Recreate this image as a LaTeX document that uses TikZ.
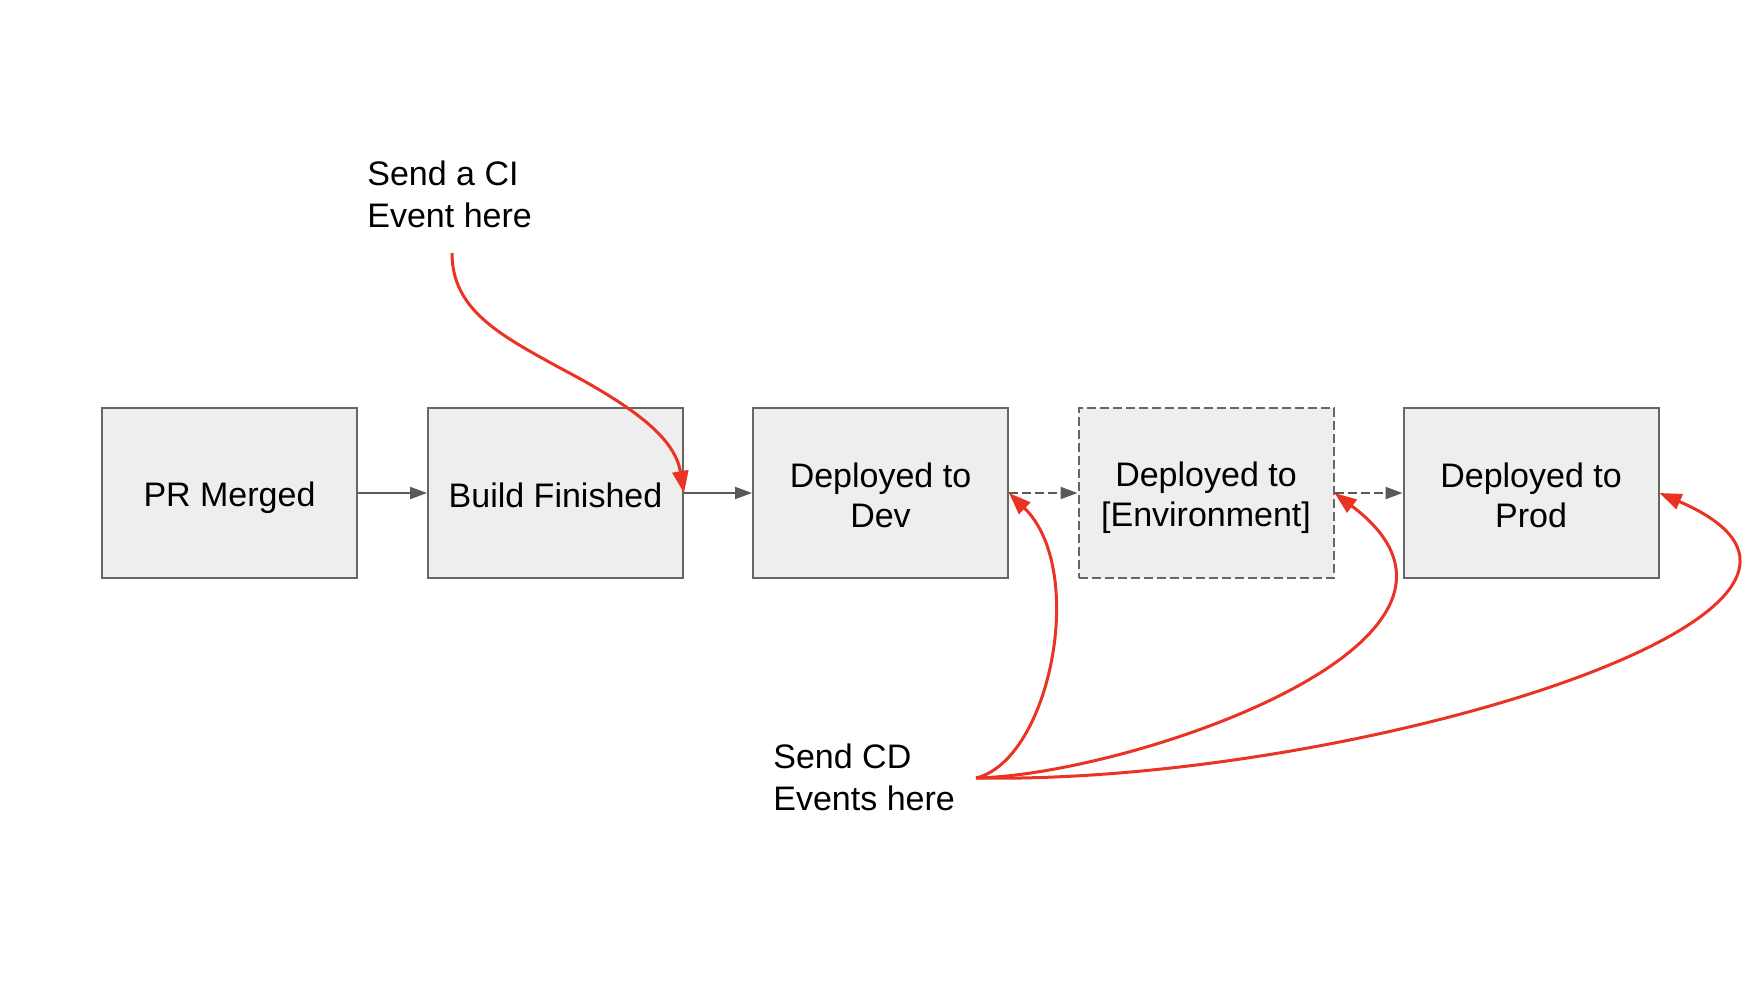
\documentclass[tikz,border=0pt]{standalone}
\usepackage{fontspec}
\setmainfont{Liberation Sans}
\usetikzlibrary{arrows.meta}
\definecolor{boxfill}{HTML}{EEEEEE}
\definecolor{boxline}{HTML}{666666}
\definecolor{arrgray}{HTML}{595959}
\definecolor{evred}{HTML}{EA3323}
\newcommand\bxstrut{\rule[-3pt]{0pt}{20pt}}
\newcommand\stagefont{\fontsize{17pt}{20pt}\selectfont\setlength{\lineskiplimit}{-20pt}}
\begin{document}
\begin{tikzpicture}[x=0.5pt,y=-0.5pt,
  stagebox/.style={draw=boxline,fill=boxfill,line width=1pt,minimum width=127.5pt,minimum height=85pt,align=center,inner sep=0pt,font=\stagefont},
  flow/.style={draw=arrgray,line width=1pt,-{Triangle[length=8.5pt,width=6pt]}},
  dashflow/.style={flow,dash pattern=on 4.5pt off 2pt},
  event/.style={draw=evred,line width=1.5pt,-{Triangle[length=11pt,width=8pt]}},
  note/.style={align=left,inner sep=0pt,font=\fontsize{17pt}{21pt}\selectfont}]
\useasboundingbox (0,0) rectangle (1764,988);
\node[stagebox] (pr) at (229.5,493) {PR Merged\bxstrut};
\node[stagebox] (build) at (555.5,493) {Build Finished\bxstrut};
\node[stagebox] (dev) at (880.5,493) {Deployed to\bxstrut\\Dev\bxstrut};
\node[stagebox,dash pattern=on 4.5pt off 2pt] (env) at (1206,493) {Deployed to\bxstrut\\{[Environment]}\bxstrut};
\node[stagebox] (prod) at (1531,493) {Deployed to\bxstrut\\Prod\bxstrut};
\draw[flow] (pr.east) -- (build.west);
\draw[flow] (build.east) -- (dev.west);
\draw[dashflow] (dev.east) -- (env.west);
\draw[dashflow] (env.east) -- (prod.west);
\node[note,anchor=west] (ci) at (367,194) {Send a CI\\Event here};
\node[note,anchor=west] (cd) at (773,777) {Send CD\\Events here};
\coordinate (cistart) at (452,253);
\coordinate (cdstart) at (976,778);
\draw[event] (cistart) .. controls (452,310) and (500,335) .. (560,368) .. controls (640,410) and (675,440) .. (build.east);
\draw[event] (cdstart) .. controls (1050,760) and (1088,570) .. (dev.east);
\draw[event] (cdstart) .. controls (1130,775) and (1530,640) .. (env.east);
\draw[event] (cdstart) .. controls (1350,785) and (1930,610) .. (prod.east);
\end{tikzpicture}
\end{document}
